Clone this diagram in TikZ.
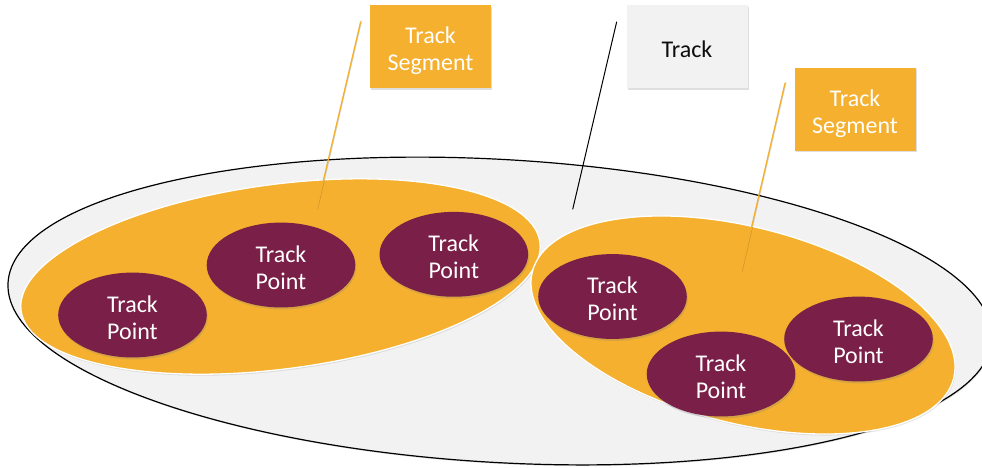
\documentclass[tikz,border=0pt]{standalone}
\usepackage{fontspec}
\setmainfont{Carlito}
\usetikzlibrary{shapes.geometric,shadows}
\definecolor{segorange}{RGB}{244,176,46}
\definecolor{ptmaroon}{RGB}{122,31,71}
\definecolor{trackgray}{RGB}{242,242,242}
\newcommand{\mybotstrut}{\rule[-6pt]{0pt}{0pt}}
\tikzset{
  txt/.style={font=\fontsize{24}{27}\selectfont, align=center,
    execute at begin node={\rule{0pt}{#1}}, execute at end node=\mybotstrut},
  txt/.default=54pt,
  outerell/.style={ellipse, draw=black, line width=1.2pt, fill=trackgray, inner sep=0pt,
    drop shadow={shadow xshift=0.8pt, shadow yshift=-1.2pt, opacity=0.25}},
  segell/.style={ellipse, draw=white, line width=1.3pt, fill=segorange, inner sep=0pt,
    drop shadow={shadow xshift=0.8pt, shadow yshift=-1.5pt, opacity=0.2}},
  ptell/.style={ellipse, fill=ptmaroon, text=white, txt, inner sep=0pt,
    minimum width=148.6pt, minimum height=83pt,
    drop shadow={shadow xshift=1pt, shadow yshift=-2pt, opacity=0.25}},
  labelbox/.style={rectangle, inner sep=0pt, minimum width=121pt, minimum height=83pt,
    drop shadow={shadow xshift=1pt, shadow yshift=-1.8pt, opacity=0.25}},
  segbox/.style={labelbox, txt, fill=segorange, text=white},
  trackbox/.style={labelbox, txt=27pt, fill=trackgray, text=black!95},
  orangeline/.style={draw=segorange, line width=1.3pt},
  blackline/.style={draw=black, line width=1pt},
  lineshadow/.style={draw=black, opacity=0.15, line width=1.5pt},
}
\begin{document}
\begin{tikzpicture}[x=1pt,y=-1pt]
\useasboundingbox[fill=white] (0,0) rectangle (982,467);
% outer track ellipse
\node[outerell, minimum width=985.6pt, minimum height=303pt, rotate=-3.3] (track) at (500,311) {};
% segments
\node[segell, minimum width=523.4pt, minimum height=184.6pt, rotate=7.5] (segL) at (280.5,276.5) {};
\node[segell, minimum width=434.6pt, minimum height=196.2pt, rotate=-14.2] (segR) at (743,325) {};
% track points
\node[ptell] (p1) at (132.5,315) {Track\\Point};
\node[ptell] (p2) at (281,265) {Track\\Point};
\node[ptell] (p3) at (453.8,254.3) {Track\\Point};
\node[ptell] (p4) at (612.5,296.5) {Track\\Point};
\node[ptell] (p5) at (721,374) {Track\\Point};
\node[ptell] (p6) at (858.5,339) {Track\\Point};
% labels
\node[segbox] (lab1) at (430.5,46.7) {Track\\Segment};
\node[trackbox] (lab2) at (687,46.7) {Track};
\node[segbox] (lab3) at (855,109) {Track\\Segment};
% callout lines
\coordinate (c1a) at (360.7,21.7);
\coordinate (c1b) at (316.5,210);
\coordinate (c2a) at (616.7,21.7);
\coordinate (c2b) at (572.7,209.3);
\coordinate (c3a) at (785,83.3);
\coordinate (c3b) at (741,272.7);
\draw[lineshadow] ([xshift=0.8pt,yshift=1.2pt]c1a) -- ([xshift=0.8pt,yshift=1.2pt]c1b);
\draw[lineshadow] ([xshift=0.8pt,yshift=1.2pt]c3a) -- ([xshift=0.8pt,yshift=1.2pt]c3b);
\draw[orangeline] (c1a) -- (c1b);
\draw[blackline] (c2a) -- (c2b);
\draw[orangeline] (c3a) -- (c3b);
\end{tikzpicture}
\end{document}
